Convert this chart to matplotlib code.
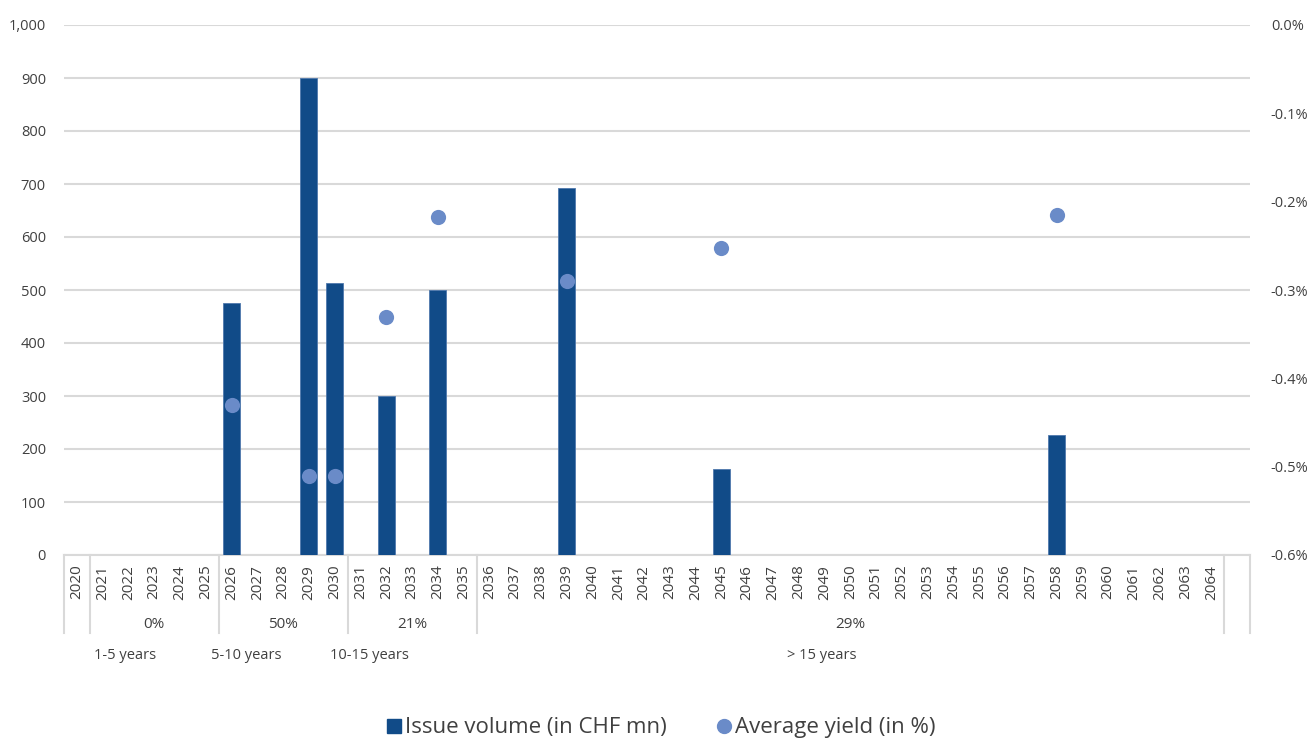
import matplotlib
matplotlib.use("Agg")
import matplotlib.pyplot as plt
import matplotlib.transforms as mtransforms
from matplotlib.lines import Line2D

plt.rcParams["font.family"] = ["Open Sans", "DejaVu Sans"]

# maturities on the category axis (one empty slot follows 2064)
years = list(range(2020, 2065))

# issues per maturity year
bar_years = [2026, 2029, 2030, 2032, 2034, 2039, 2045, 2058]
volumes = [475, 900, 513, 300, 500, 692, 162, 227]
yields = [-0.43, -0.51, -0.51, -0.33, -0.217, -0.29, -0.252, -0.215]

# maturity buckets: last year of each bucket, share, label
bucket_ends = [2025, 2030, 2035, 2064]
bucket_shares = ["0%", "50%", "21%", "29%"]
bucket_names = ["1-5 years", "5-10 years", "10-15 years", "> 15 years"]
bucket_name_x = [1.87, 6.56, 11.33, 28.9]

BAR = "#114b88"
DOT = "#6a8bc8"
GRID = "#d9d9d9"
TXT = "#404040"

W, H = 1309, 740
fig = plt.figure(figsize=(W / 100, H / 100), dpi=100)
ax = fig.add_axes([64 / W, 185 / H, 1186 / W, 530 / H])
ax2 = ax.twinx()

pos = [years.index(y) for y in bar_years]
ax.bar(pos, volumes, width=0.66, color=BAR, edgecolor="#4f78ad", linewidth=0.6, zorder=3)
ax2.scatter(pos, yields, s=120, color=DOT, zorder=4, linewidths=0)

ax.set_xlim(-0.5, len(years) + 0.5)
ax.set_ylim(0, 1000)
ax.set_yticks(range(0, 1001, 100))
ax.set_yticklabels([f"{v:,}" for v in range(0, 1001, 100)])
ax2.set_ylim(-0.6, 0)
ticks2 = [-0.6 + 0.1 * i for i in range(7)]
ax2.set_yticks(ticks2)
ax2.set_yticklabels([f"{t:.1f}%" if abs(t) > 1e-9 else "0.0%" for t in ticks2])

ax.grid(axis="y", color=GRID, linewidth=1.5, zorder=0)
ax.set_axisbelow(True)
for a in (ax, ax2):
    for s in a.spines.values():
        s.set_visible(False)
    a.tick_params(length=0, labelsize=10.5, labelcolor=TXT)
ax.tick_params(axis="y", pad=13)
ax2.tick_params(axis="y", pad=15)
ax2.set_zorder(ax.get_zorder() + 1)

ax.set_xticks(range(len(years)))
ax.set_xticklabels([str(y) for y in years], rotation=90, fontsize=11, color=TXT)
ax.tick_params(axis="x", pad=7)

trans = mtransforms.blended_transform_factory(ax.transData, ax.transAxes)
ax.plot([-0.5, len(years) + 0.5], [0, 0], transform=trans, color=GRID,
        linewidth=1.5, clip_on=False, zorder=2)

# separators of the multi-level category axis
seps = [-0.5, 0.5] + [years.index(e) + 0.5 for e in bucket_ends] + [len(years) + 0.5]
for x in seps:
    ax.plot([x, x], [0, -0.147], transform=trans, color=GRID, linewidth=1.5,
            clip_on=False)

starts = [0.5] + [years.index(e) + 0.5 for e in bucket_ends[:-1]]
ends = [years.index(e) + 0.5 for e in bucket_ends]
for s, e, share in zip(starts, ends, bucket_shares):
    ax.text((s + e) / 2, -0.131, share, transform=trans, ha="center", va="center",
            fontsize=11, color=TXT)
for x, name in zip(bucket_name_x, bucket_names):
    ax.text(x, -0.189, name, transform=trans, ha="center", va="center",
            fontsize=10.5, color=TXT)

handles = [
    Line2D([], [], marker="s", linestyle="none", markersize=10, color=BAR),
    Line2D([], [], marker="o", linestyle="none", markersize=10, color=DOT),
]
fig.legend(handles, ["Issue volume (in CHF mn)", "Average yield (in %)"],
           loc="center", bbox_to_anchor=(0.505, 12 / H), ncol=2, frameon=False,
           fontsize=16, labelcolor=TXT, handletextpad=0.15, columnspacing=2.2,
           handlelength=0.7)

fig.savefig("out.png", dpi=100)
